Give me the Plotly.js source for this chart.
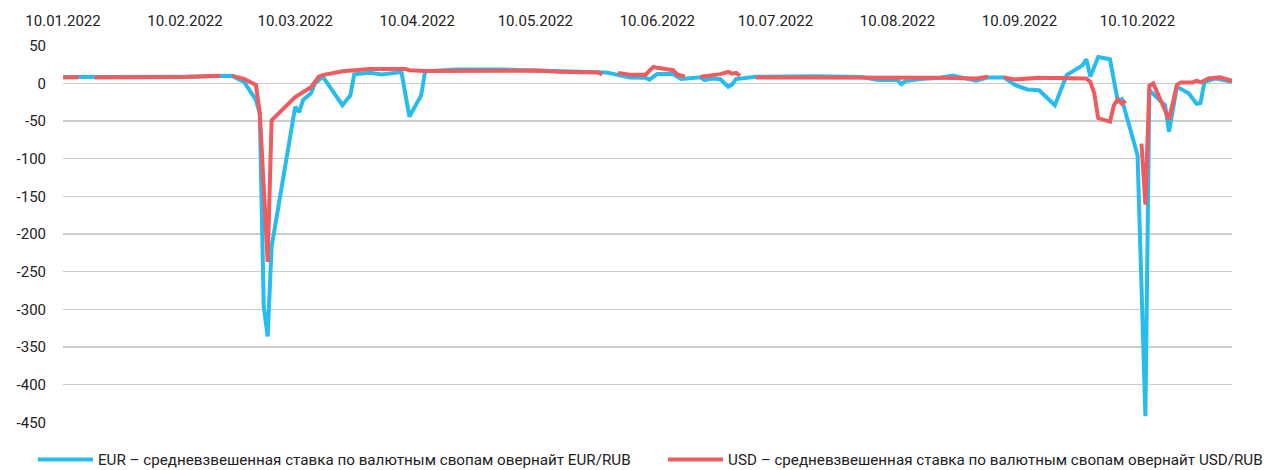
<!DOCTYPE html>
<html>
<head>
<meta charset="utf-8">
<script src="https://cdn.plot.ly/plotly-3.0.1.min.js"></script>
<style>html,body{margin:0;padding:0;background:#fff;}#chart{width:1272px;height:470px;}</style>
</head>
<body>
<div id="chart"></div>
<script>
const eurDates = ['2022-01-10','2022-01-14','2022-01-18','2022-01-25','2022-02-01','2022-02-10','2022-02-16','2022-02-22','2022-02-25','2022-02-28',
'2022-03-01','2022-03-02','2022-03-03','2022-03-04','2022-03-10','2022-03-11','2022-03-12','2022-03-14','2022-03-15','2022-03-17',
'2022-03-22','2022-03-24','2022-03-25','2022-03-29','2022-04-01','2022-04-06','2022-04-08','2022-04-11','2022-04-12','2022-04-20',
'2022-05-01','2022-05-10','2022-05-16','2022-05-28','2022-06-03','2022-06-07','2022-06-08','2022-06-10','2022-06-14','2022-06-16',
'2022-06-21','2022-06-22','2022-06-24','2022-06-26','2022-06-28','2022-06-29','2022-06-30','2022-07-05','2022-07-20','2022-08-01',
'2022-08-05','2022-08-10','2022-08-11','2022-08-12','2022-08-16','2022-08-21','2022-08-24','2022-08-30','2022-09-02','2022-09-06',
'2022-09-09','2022-09-12','2022-09-15','2022-09-19','2022-09-22','2022-09-25','2022-09-26','2022-09-27','2022-09-28','2022-09-30',
'2022-10-03','2022-10-05','2022-10-06','2022-10-10','2022-10-12','2022-10-13','2022-10-17','2022-10-18','2022-10-20','2022-10-23',
'2022-10-25','2022-10-26','2022-10-27','2022-10-30','2022-11-03'];
const eurValues = [8.5,8.5,8,8.5,8.5,9,9.5,10,2,-22,
-40,-296,-336,-217,-31,-38,-22,-13,0,9,
-29,-16,12,14,12,15,-44,-16,16,18.5,
18.5,17.5,16,14.6,8,7.5,5,12.5,12.5,6,
8,4.5,6.5,5.5,-4.5,-1.3,5.7,8.8,9.5,8.5,
4.4,4.4,-1,3,5.7,7.4,10.5,3.5,8,8,
-2.3,-8,-9,-29,11,20,24,32,9,35,
32,-24,-21,-95,-442,-9,-29,-64,-4.5,-13,
-27,-26,2,6.6,2];

const usdDates = ['2022-01-10','2022-01-14','2022-01-16','2022-01-18','2022-01-25','2022-02-01','2022-02-10','2022-02-19','2022-02-20','2022-02-22',
'2022-02-25','2022-02-28','2022-03-01','2022-03-03','2022-03-04','2022-03-10','2022-03-11','2022-03-14','2022-03-16','2022-03-17',
'2022-03-22','2022-03-29','2022-04-07','2022-04-08','2022-04-12','2022-05-01','2022-05-10','2022-05-16','2022-05-26','2022-05-27',
'2022-05-29','2022-05-31','2022-06-03','2022-06-07','2022-06-09','2022-06-10','2022-06-14','2022-06-15','2022-06-17','2022-06-19',
'2022-06-21','2022-06-26','2022-06-28','2022-06-29','2022-06-30','2022-07-01','2022-07-03','2022-07-05','2022-08-01','2022-08-21',
'2022-08-30','2022-09-02','2022-09-04','2022-09-06','2022-09-09','2022-09-15','2022-09-27','2022-09-28','2022-09-29','2022-09-30',
'2022-10-03','2022-10-04','2022-10-05','2022-10-06','2022-10-07','2022-10-09','2022-10-11','2022-10-12','2022-10-13','2022-10-14',
'2022-10-18','2022-10-20','2022-10-21','2022-10-24','2022-10-25','2022-10-26','2022-10-28','2022-10-31','2022-11-03'];
const usdValues = [8,8,null,8,8,7.5,8.5,10,null,10,
6,-2,-39,-237,-49,-18,-15,-5,9,11,
16,19,19,17.6,16.5,17.5,17,15.4,14.6,12,
null,14,11.5,11.5,22,20.7,17.6,12,8.8,null,
8.8,12.3,15.4,13,14,10,null,8,8,7.4,
6.6,8.8,null,8,5.3,7.4,6.6,2,-13,-46,
-51,-29,-21,-27,-23,null,-80,-161,-3,0,
-48,-2,1.3,1.3,3.5,1.3,6.6,8,3.5];

const seriesNames = ['EUR – средневзвешенная ставка по валютным свопам овернайт EUR/RUB',
                     'USD – средневзвешенная ставка по валютным свопам овернайт USD/RUB'];
const yTickVals = [50,0,-50,-100,-150,-200,-250,-300,-350,-400,-450];
const yTickText = ['50','0','-50','-100','-150','-200','-250','-300','-350','-400','-450'];

const FONT = 'Roboto, "Open Sans", sans-serif';

const traces = [
  {x: eurDates, y: eurValues, name: seriesNames[0], type: 'scatter', mode: 'lines',
   line: {color: '#27bcee', width: 4}, connectgaps: false, legend: 'legend'},
  {x: usdDates, y: usdValues, name: seriesNames[1], type: 'scatter', mode: 'lines',
   line: {color: '#f05b60', width: 4}, connectgaps: false, legend: 'legend2'}
];

const legendFont = {family: FONT, size: 15.2, color: '#222'};

const layout = {
  width: 1272, height: 470,
  margin: {l: 63, r: 40, t: 45, b: 47, pad: 0, autoexpand: false},
  paper_bgcolor: '#fff', plot_bgcolor: '#fff',
  font: {family: FONT, size: 15, color: '#222'},
  showlegend: true,
  legend: {orientation: 'h', x: -0.0257, xanchor: 'left', y: -0.0967, yanchor: 'middle',
           font: legendFont, itemwidth: 55, bgcolor: 'rgba(0,0,0,0)'},
  legend2: {orientation: 'h', x: 0.5133, xanchor: 'left', y: -0.0967, yanchor: 'middle',
           font: legendFont, itemwidth: 55, bgcolor: 'rgba(0,0,0,0)'},
  xaxis: {type: 'date', side: 'top', range: ['2022-01-10', '2022-11-03'],
          tick0: '2022-01-10', dtick: 'M1', tickformat: '%d.%m.%Y',
          showgrid: false, zeroline: false, showline: false, ticks: '',
          ticklabelstandoff: 15, tickfont: {family: FONT, size: 15, color: '#222'}},
  yaxis: {range: [-451, 51], tickvals: yTickVals, ticktext: yTickText,
          showgrid: true, gridcolor: '#cccccc', gridwidth: 1.3, zeroline: false, showline: false,
          ticks: '', ticklabelstandoff: 16, tickfont: {family: FONT, size: 15, color: '#222'}}
};

Plotly.newPlot('chart', traces, layout, {staticPlot: true, displayModeBar: false});
</script>
</body>
</html>
